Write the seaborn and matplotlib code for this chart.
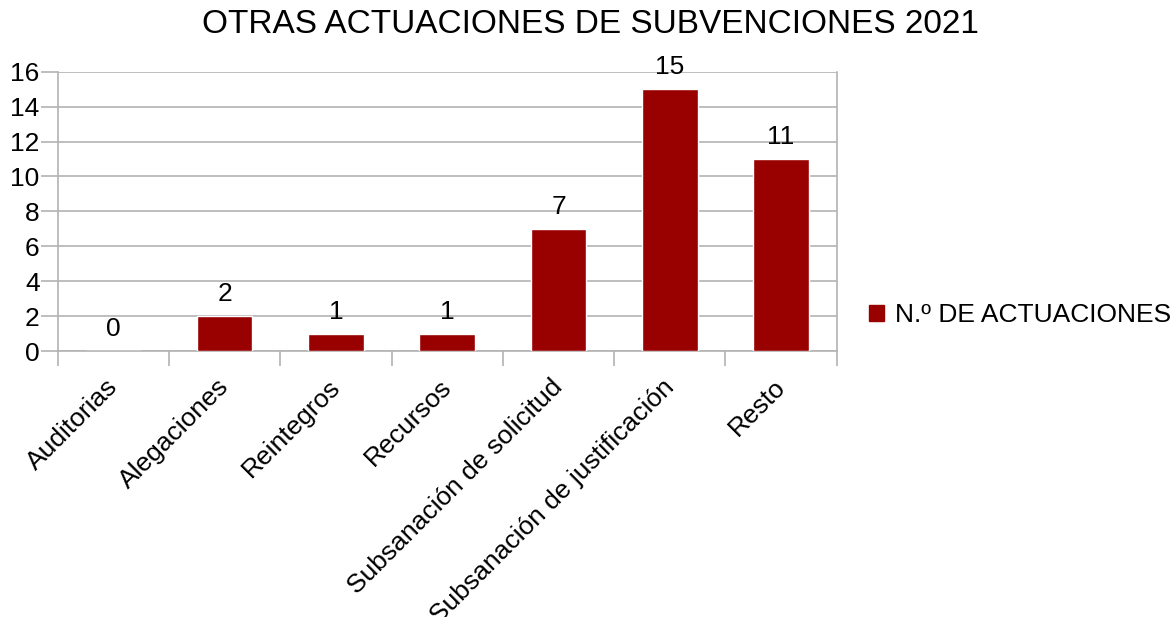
import matplotlib
matplotlib.use("Agg")
import matplotlib.pyplot as plt
import matplotlib.transforms as mtransforms
from matplotlib.patches import Patch
import seaborn as sns
import pandas as pd
import numpy as np

categories = ["Auditorias", "Alegaciones", "Reintegros", "Recursos",
              "Subsanación de solicitud", "Subsanación de justificación", "Resto"]
actuaciones = [0, 2, 1, 1, 7, 15, 11]
series_name = "N.º DE ACTUACIONES"
title = "OTRAS ACTUACIONES DE SUBVENCIONES 2021"
y_ticks = [0, 2, 4, 6, 8, 10, 12, 14, 16]

sns.set_theme(style="white")
plt.rcParams["font.family"] = ["Liberation Sans", "DejaVu Sans"]
plt.rcParams["text.color"] = "black"
plt.rcParams["xtick.labelcolor"] = "black"
plt.rcParams["ytick.labelcolor"] = "black"

df = pd.DataFrame({"categoria": categories, "valor": actuaciones})

fig = plt.figure(figsize=(11.76, 6.17), dpi=100)
ax = fig.add_axes([0.0491, 0.4311, 0.6624, 0.4527])

grid_color = "#b3b3b3"
bar_color = "#990000"
fs = 19

sns.barplot(data=df, x="categoria", y="valor", color=bar_color, width=0.5,
            saturation=1, ax=ax, zorder=3)

ax.set_ylim(0, 16)
ax.set_xlim(-0.5, len(categories) - 0.5)
ax.set_yticks(y_ticks)
ax.set_yticklabels([str(v) for v in y_ticks], fontsize=fs)
ax.yaxis.grid(True, color=grid_color, linewidth=1.2, zorder=0)
ax.set_axisbelow(True)

ax.set_xticks(range(len(categories)))
ax.set_xticklabels(categories, rotation=45, ha="right", fontsize=fs)
ax.tick_params(axis="x", which="major", length=0, pad=17)
# nudge rotated category labels so their ends sit under the bar centres
shift = mtransforms.ScaledTranslation(9 / 100, 0, fig.dpi_scale_trans)
for lbl in ax.get_xticklabels():
    lbl.set_transform(lbl.get_transform() + shift)
ax.set_xticks(np.arange(-0.5, len(categories), 1), minor=True)
ax.tick_params(axis="x", which="minor", length=11, width=1.2, color=grid_color,
               direction="out", bottom=True)
ax.tick_params(axis="y", length=12, width=1.2, color=grid_color, direction="out",
               left=True, pad=1)

for side in ["left", "right", "bottom"]:
    ax.spines[side].set_visible(True)
    ax.spines[side].set_color(grid_color)
    ax.spines[side].set_linewidth(1.2)
ax.spines["top"].set_visible(False)

ax.set_xlabel("")
ax.set_ylabel("")

for container in ax.containers:
    ax.bar_label(container, labels=[str(v) for v in actuaciones],
                 padding=7, fontsize=fs, color="black")

fig.suptitle(title, fontsize=24, x=0.502, y=0.985, va="top", color="black")

handle = Patch(facecolor=bar_color, edgecolor=bar_color)
ax.legend([handle], [series_name], loc="center left",
          bbox_to_anchor=(0.739, 0.489), bbox_transform=fig.transFigure,
          frameon=False, fontsize=fs, handlelength=0.55, handleheight=0.55,
          handletextpad=0.45, borderaxespad=0, borderpad=0)

fig.savefig("out.png", dpi=100)
